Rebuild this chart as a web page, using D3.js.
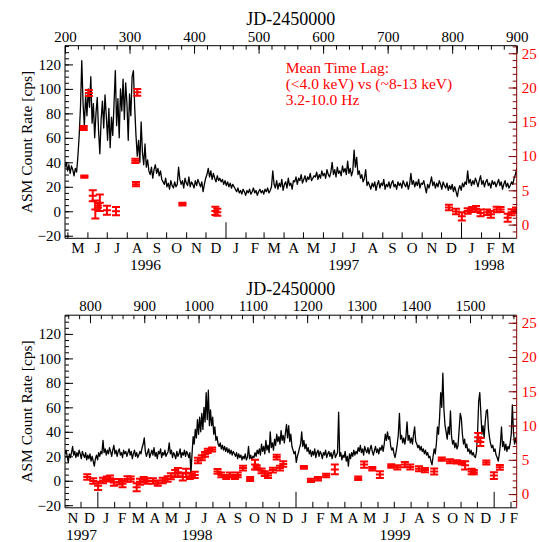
<!DOCTYPE html>
<html>
<head>
<meta charset="utf-8">
<script src="https://cdn.jsdelivr.net/npm/d3@7"></script>
<style>
  body { margin: 0; background: #fff; }
  svg text { font-family: 'Liberation Serif', 'Times New Roman', serif; }
</style>
</head>
<body>
<div id="chart"></div>
<script>
// ASM count rate in two-day steps.
// each chunk: [first JD-2450000, rates...]
const asmChunks = [
  [200, [36, 40, 33, 38, 31, 37, 34, 29, 35, 32]],
  [220, [45, 62, 85, 123, 88, 70, 95, 78, 100, 85, 110]],
  [242, [72, 88, 60, 80, 93, 66, 47, 75, 90, 68, 95, 78, 58, 84, 52, 77, 62, 88, 115, 70, 92, 60, 100, 82, 108, 75, 105, 88, 58, 96, 78, 110, 115, 85, 62]],
  [312, [45, 58, 40, 73, 48, 38, 55, 36, 42, 33]],
  [332, [30, 36, 27, 34, 38, 31, 35, 29, 33, 26]],
  [352, [24, 22, 27, 20, 23, 18, 25, 21, 19, 24, 20, 22, 36]],
  [378, [26, 22, 25, 19, 27, 23, 21, 28, 20, 24, 22, 19, 25, 21, 26, 23, 20, 24, 16]],
  [416, [22, 27, 30, 35, 28, 33, 26, 31, 27, 24, 29, 25, 27]],
  [442, [24, 26, 22, 25, 21, 24, 20, 23, 19, 22, 20]],
  [464, [18, 16, 19, 15, 17, 14, 18, 16, 13, 17, 15, 18, 14, 16, 19, 15, 17, 13, 16, 18, 15, 17, 14, 18, 16, 19, 15, 17, 20, 33]],
  [524, [22, 19, 25, 18, 23, 20, 26, 17, 22, 24, 19, 27, 21, 23, 18, 25]],
  [556, [24, 28, 22, 27, 25, 30, 23, 26, 29, 24, 28, 26, 31, 25, 27, 29]],
  [588, [28, 32, 26, 30, 27, 33, 29, 31, 27, 34, 30, 28, 32, 40]],
  [616, [30, 34, 28, 36, 31, 33, 29, 37, 32, 35, 30, 41]],
  [640, [31, 35, 29, 33, 50, 36, 44, 30, 33, 27, 30, 24, 27, 34, 21, 24]],
  [672, [21, 18, 23, 20, 24, 17, 22, 25, 19, 23, 21, 26, 18, 22, 20, 24, 19, 23, 25, 20, 22, 18, 24, 21, 23, 19, 25, 22, 20, 24, 18, 22, 31]],
  [738, [22, 25, 20, 24, 21, 26, 19, 23, 22, 25, 20, 15, 22, 19, 23, 28]],
  [770, [21, 24, 19, 23, 20, 25, 22, 18, 24, 21, 19, 23, 17, 21, 18, 22, 16, 20, 16, 12]],
  [810, [18, 21, 17, 23, 20, 24, 22, 33]],
  [826, [23, 26, 21, 25, 22, 27, 24, 20, 25, 29]],
  [846, [22, 25, 20, 24, 26, 21, 23, 19, 25, 22, 24, 20, 23, 26, 21, 24, 18, 22, 25, 20, 23, 19, 21]],
  [892, [24, 22, 27, 30, 35]],
  [902, [24, 20, 23, 26, 19, 22, 25, 21, 27, 20, 23, 18, 24, 22, 26, 19, 23, 21, 25, 20, 22, 24, 31]],
  [948, [22, 25, 19, 23, 21, 18, 24, 20, 22, 26, 19, 23, 21, 25, 20, 24, 22, 19, 23, 6]],
  [988, [22, 36, 30, 42, 35, 50, 38, 52, 40]],
  [1006, [55, 42, 60, 48, 72, 50, 74, 45, 58]],
  [1024, [45, 52, 38, 44, 33, 36, 30, 28, 31, 26]],
  [1044, [29, 25, 28, 24, 27, 23, 26, 22, 25, 21, 24, 22]],
  [1068, [20, 23, 18, 22, 19, 21, 17, 20, 18, 22, 17, 19, 28]],
  [1094, [18, 21, 17, 20, 19, 23, 20, 25, 22]],
  [1112, [26, 21, 30, 24, 28, 22, 33, 25, 29, 23, 40]],
  [1134, [27, 31, 25, 34, 29, 38, 32, 36, 30, 41, 33, 37, 31, 39, 46, 35, 45, 32, 38, 28]],
  [1174, [25, 22, 24, 15, 20, 23, 27, 30]],
  [1190, [40, 28, 33, 26, 30, 24, 27]],
  [1204, [22, 25, 20, 24, 21, 26, 19, 23, 25, 20, 24, 22, 18, 23, 21, 25, 19, 22, 24, 20, 23, 18, 22, 25, 19, 21, 23, 56]],
  [1260, [20, 23, 17, 21, 19, 24, 16, 20, 12, 22, 18, 23, 20, 25, 21, 24]],
  [1292, [22, 27, 24, 29, 23, 26, 21, 28, 25, 23, 27, 22, 26, 29, 24, 21, 25, 28, 23, 26, 22, 27, 25, 29, 24, 30]],
  [1344, [38, 33, 40, 34, 36, 28, 25, 27, 22, 19, 24, 30]],
  [1368, [38, 55, 34, 37, 31, 35, 30, 36, 48, 33, 37, 31, 35, 30, 38, 44, 32]],
  [1402, [30, 27, 29, 25, 28, 24, 26, 22, 25, 21, 23, 19, 20, 16, 13]],
  [1432, [20, 26, 22, 30, 44, 38, 52, 72, 60, 88, 58, 45, 40, 34, 44, 38, 57, 36, 30, 33, 27, 31, 26, 29, 42, 55, 51, 38, 30, 34, 27, 30, 24, 26, 22, 25, 21, 23, 20, 19, 24]],
  [1514, [40, 65, 72, 55, 38, 45, 35, 48, 57, 58, 42, 35, 30, 27, 29, 24, 26, 21, 19, 16, 22, 30, 44, 28, 32, 25, 30, 24, 28, 26, 31, 38, 62, 40, 30, 35, 30]],
];

// mean time lag points (right axis)
const lagDays = [229, 230, 237, 243, 247, 251, 254, 265, 279, 309, 310, 312, 382, 433, 436,
  795, 806, 815, 824, 831, 837, 844, 854, 860, 869, 875, 886, 892, 899,
  906, 916, 925, 934, 943, 949, 957, 962, 971, 977, 984, 993, 999, 1006, 1012, 1017, 1025,
  1035, 1042, 1051, 1058, 1067, 1072, 1082, 1095, 1104, 1107, 1116, 1122, 1128, 1137, 1144, 1150, 1156,
  1194, 1207, 1220, 1235, 1251, 1294, 1305, 1320, 1334, 1355, 1366, 1380, 1390, 1406, 1417, 1434,
  1448, 1463, 1476, 1485, 1491, 1503, 1507, 1515, 1519, 1530, 1544, 1555];
const lagValues = [14.1, 7.0, 19.2, 4.2, 2.2, 2.8, 3.2, 2.1, 1.95, 9.3, 5.9, 19.3, 3.0, 2.0, 1.8,
  2.5, 1.9, 1.2, 2.0, 2.2, 2.3, 1.7, 1.8, 1.5, 2.2, 2.2, 1.0, 1.8, 2.1,
  1.9, 1.9, 1.6, 2.0, 2.2, 2.6, 3.0, 3.2, 2.5, 3.1, 2.6, 2.8, 4.9, 5.3, 5.8, 6.3, 6.5,
  3.3, 2.8, 2.5, 2.8, 2.5, 2.8, 3.8, 2.2, 4.3, 3.9, 3.4, 3.0, 2.7, 3.5, 5.4, 3.8, 4.4,
  3.9, 2.0, 2.25, 2.7, 3.6, 2.3, 4.3, 3.7, 2.85, 4.1, 3.9, 4.3, 3.95, 3.7, 3.5, 3.3,
  5.1, 4.8, 4.7, 4.55, 4.2, 3.3, 3.2, 8.3, 7.6, 4.6, 2.7, 3.9];
const lagErrors = [0.3, 0.15, 0.45, 0.8, 1.3, 0.35, 1.2, 0.65, 0.6, 0.3, 0.3, 0.5, 0.2, 0.6, 0.5,
  0.4, 0.4, 0.6, 0.4, 0.37, 0.4, 0.5, 0.4, 0.5, 0.4, 0.35, 0.6, 0.45, 0.4,
  0.4, 0.4, 0.4, 0.4, 0.4, 0.45, 0.5, 0.6, 0.5, 0.6, 0.4, 0.45, 0.4, 0.35, 0.35, 0.3, 0.3,
  0.35, 0.35, 0.3, 0.35, 0.3, 0.35, 0.35, 0.3, 0.7, 0.3, 0.35, 0.35, 0.35, 0.35, 0.35, 0.35, 0.4,
  0.2, 0.25, 0.25, 0.25, 0.7, 0.25, 0.45, 0.25, 0.5, 0.25, 0.3, 0.4, 0.35, 0.35, 0.3, 0.45,
  0.25, 0.3, 0.25, 0.25, 0.6, 0.4, 0.3, 0.6, 0.6, 0.3, 0.5, 0.35];

const panelRanges = [[200, 900], [754, 1586]];
const rateTicks = [-20, 0, 20, 40, 60, 80, 100, 120];
const lagTicks = [0, 5, 10, 15, 20, 25];
const monthLetters = ['J', 'F', 'M', 'A', 'M', 'J', 'J', 'A', 'S', 'O', 'N', 'D'];
const legendLines = ['Mean Time Lag:', '(<4.0 keV) vs (~8-13 keV)', '3.2-10.0 Hz'];
const axisTitle = 'JD-2450000';
const rateTitle = 'ASM Count Rate [cps]';

const visualConfig = {
  width: 539,
  height: 542,
  box: { left: 65, right: 516.7, top: 45.7, bottom: 238.3 },
  panelOffset: 269.5,
  rateDomain: [-22.1, 135.3],
  lagDomain: [-2, 26.1],
  font: 15,
  lagColor: '#ff0000',
  lagAxisColor: '#800000',
};

const jdBase = Date.UTC(1995, 9, 9, 12); // JD 2450000.0
const jdOf = (y, m) => (Date.UTC(y, m, 1) - jdBase) / 864e5;

const asmData = asmChunks
  .flatMap(([start, rates]) => rates.map((r, i) => ({ jd: start + 2 * i, rate: r })))
  .sort((a, b) => a.jd - b.jd);

const lagData = lagDays.map((d, i) => ({ jd: d, value: lagValues[i], err: lagErrors[i] }));

const svg = d3
  .select('#chart')
  .append('svg')
  .attr('width', visualConfig.width)
  .attr('height', visualConfig.height)
  .style('display', 'block');

panelRanges.forEach((range, i) => drawPanel(range, i, i * visualConfig.panelOffset));

function styleAxis(g, color) {
  g.attr('font-family', null).attr('font-size', visualConfig.font);
  g.select('.domain').remove();
  g.selectAll('line').attr('stroke', color);
  g.selectAll('text').attr('fill', color);
}

function drawPanel(range, idx, dy) {
  const { left, right, top, bottom } = visualConfig.box;
  const g = svg.append('g').attr('transform', `translate(0,${dy})`);

  const x = d3.scaleLinear().domain(range).range([left, right]);
  const yRate = d3.scaleLinear().domain(visualConfig.rateDomain).range([bottom, top]);
  const yLag = d3.scaleLinear().domain(visualConfig.lagDomain).range([bottom, top]);

  const clipId = `clip-${idx}`;
  g.append('clipPath')
    .attr('id', clipId)
    .append('rect')
    .attr('x', left)
    .attr('y', top)
    .attr('width', right - left)
    .attr('height', bottom - top);

  // light curve
  const visible = asmData.filter((d) => d.jd >= range[0] - 2 && d.jd <= range[1] + 2);
  g.append('path')
    .datum(visible)
    .attr('clip-path', `url(#${clipId})`)
    .attr('fill', 'none')
    .attr('stroke', '#000')
    .attr('stroke-width', 1.3)
    .attr('stroke-linejoin', 'round')
    .attr('d', d3.line().x((d) => x(d.jd)).y((d) => yRate(d.rate)));

  // lag error bars
  const cap = 4;
  const bars = g
    .append('g')
    .attr('clip-path', `url(#${clipId})`)
    .attr('stroke', visualConfig.lagColor)
    .attr('stroke-width', 2)
    .selectAll('g')
    .data(lagData.filter((d) => d.jd >= range[0] && d.jd <= range[1]))
    .join('g')
    .attr('transform', (d) => `translate(${x(d.jd)},0)`);
  bars.append('line')
    .attr('y1', (d) => yLag(d.value - d.err))
    .attr('y2', (d) => yLag(d.value + d.err));
  [(d) => d.value - d.err, (d) => d.value, (d) => d.value + d.err].forEach((fy) => {
    bars.append('line')
      .attr('x1', -cap)
      .attr('x2', cap)
      .attr('y1', (d) => yLag(fy(d)))
      .attr('y2', (d) => yLag(fy(d)));
  });

  // frame
  g.append('path')
    .attr('d', `M${right},${top}H${left}V${bottom}H${right}`)
    .attr('fill', 'none')
    .attr('stroke', '#000');
  g.append('line')
    .attr('x1', right).attr('x2', right)
    .attr('y1', top).attr('y2', bottom)
    .attr('stroke', visualConfig.lagAxisColor);

  // left axis
  g.append('g')
    .attr('transform', `translate(${left},0)`)
    .call(d3.axisLeft(yRate).tickValues(d3.range(-20, 136, 5)).tickSize(-4).tickFormat(''))
    .call((a) => styleAxis(a, '#000'));
  g.append('g')
    .attr('transform', `translate(${left},0)`)
    .call(d3.axisLeft(yRate).tickValues(rateTicks).tickSize(-8).tickPadding(4))
    .call((a) => styleAxis(a, '#000'));

  // right axis
  g.append('g')
    .attr('transform', `translate(${right},0)`)
    .call(d3.axisRight(yLag).tickValues(d3.range(-1, 27, 1)).tickSize(-4).tickFormat(''))
    .call((a) => styleAxis(a, visualConfig.lagAxisColor));
  const ra = g.append('g')
    .attr('transform', `translate(${right},0)`)
    .call(d3.axisRight(yLag).tickValues(lagTicks).tickSize(-8).tickPadding(5))
    .call((a) => styleAxis(a, visualConfig.lagAxisColor));
  ra.selectAll('text').attr('fill', visualConfig.lagColor);

  // top JD axis
  const jdMinor = d3.range(Math.ceil(range[0] / 20) * 20, range[1] + 1, 20);
  const jdMajor = jdMinor.filter((v) => v % 100 === 0);
  g.append('g')
    .attr('transform', `translate(0,${top})`)
    .call(d3.axisTop(x).tickValues(jdMinor).tickSize(-4).tickFormat(''))
    .call((a) => styleAxis(a, '#000'));
  g.append('g')
    .attr('transform', `translate(0,${top})`)
    .call(d3.axisTop(x).tickValues(jdMajor).tickSize(-8).tickPadding(4).tickFormat(d3.format('d')))
    .call((a) => styleAxis(a, '#000'));

  g.append('text')
    .attr('x', (left + right) / 2)
    .attr('y', 25)
    .attr('text-anchor', 'middle')
    .attr('font-size', 18)
    .text(axisTitle);

  // bottom month axis
  const months = [];
  for (let y = 1995; y <= 2000; y++) {
    for (let m = 0; m < 12; m++) {
      const t0 = jdOf(y, m);
      const t1 = jdOf(m === 11 ? y + 1 : y, (m + 1) % 12);
      if (t1 > range[0] && t0 < range[1]) months.push({ y, m, t0, t1 });
    }
  }
  g.append('g')
    .selectAll('line')
    .data(months.filter((d) => d.t0 > range[0]))
    .join('line')
    .attr('x1', (d) => x(d.t0))
    .attr('x2', (d) => x(d.t0))
    .attr('y1', bottom)
    .attr('y2', (d) => bottom - (d.m === 0 ? 16 : 6))
    .attr('stroke', '#000');
  g.append('g')
    .attr('font-size', visualConfig.font)
    .attr('text-anchor', 'middle')
    .selectAll('text')
    .data(months.filter((d) => Math.min(d.t1, range[1]) - Math.max(d.t0, range[0]) >= 8))
    .join('text')
    .attr('x', (d) => x((Math.max(d.t0, range[0]) + Math.min(d.t1, range[1])) / 2))
    .attr('y', bottom + 15)
    .text((d) => monthLetters[d.m]);

  const years = d3.range(1995, 2001)
    .map((y) => ({ y, t0: Math.max(jdOf(y, 0), range[0]), t1: Math.min(jdOf(y + 1, 0), range[1]) }))
    .filter((d) => d.t1 - d.t0 >= 50);
  g.append('g')
    .attr('font-size', visualConfig.font + 0.5)
    .attr('text-anchor', 'middle')
    .selectAll('text')
    .data(years)
    .join('text')
    .attr('x', (d) => x((d.t0 + d.t1) / 2))
    .attr('y', bottom + 32)
    .text((d) => d.y);

  // left title
  g.append('text')
    .attr('transform', `translate(32,${(top + bottom) / 2}) rotate(-90)`)
    .attr('text-anchor', 'middle')
    .attr('font-size', visualConfig.font + 0.5)
    .text(rateTitle);

  if (idx === 0) {
    g.append('g')
      .attr('fill', visualConfig.lagColor)
      .attr('font-size', visualConfig.font + 0.5)
      .selectAll('text')
      .data(legendLines)
      .join('text')
      .attr('x', 285.7)
      .attr('y', (d, i) => 73 + i * 16)
      .text((d) => d);
  }
}
</script>
</body>
</html>
